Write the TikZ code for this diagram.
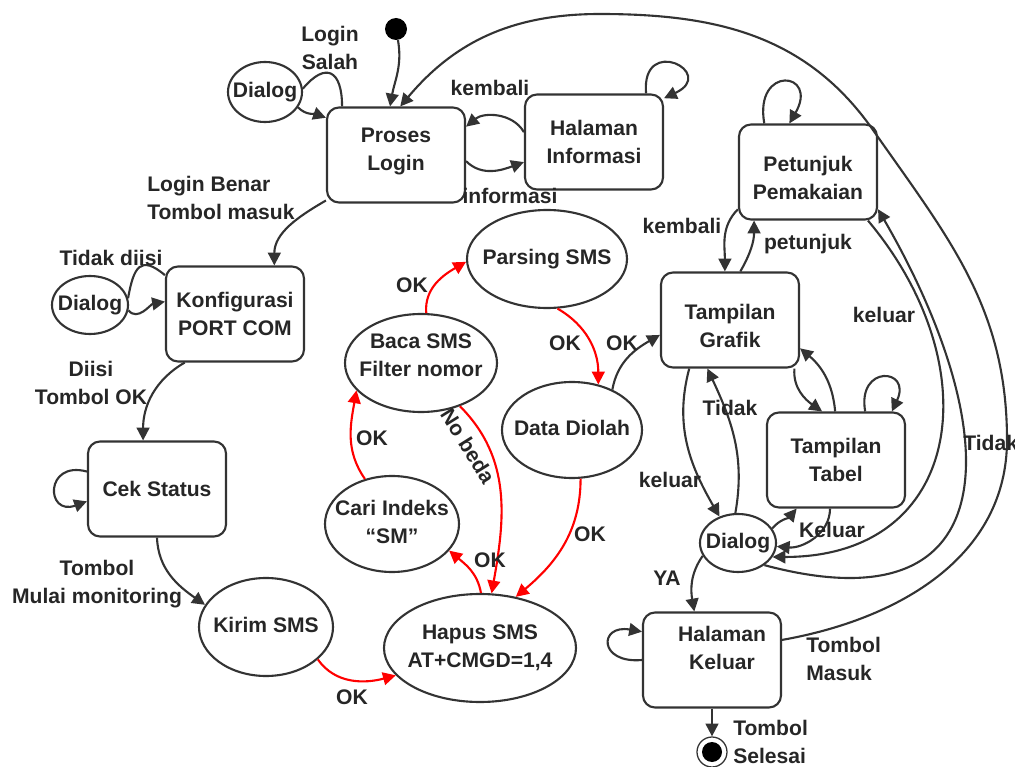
\documentclass[tikz,border=0pt]{standalone}
\usepackage{fontspec}
\setmainfont{Liberation Sans}
\usetikzlibrary{arrows.meta,shapes.geometric}
\newcommand{\ovtxt}[1]{\makebox[0pt]{\begin{tabular}{@{}c@{}}#1\end{tabular}}}
\newcommand{\shifttxt}[2]{\raisebox{#1}[\height][\depth]{\begin{tabular}{@{}c@{}}#2\end{tabular}}}
\tikzset{
  state/.style={draw=black!80, line width=1.5pt, rounded corners=3mm, minimum width=34.5mm, minimum height=23.75mm, align=center, inner sep=0pt},
  oval/.style={ellipse, draw=black!80, line width=1.5pt, inner sep=0pt},
  trans/.style={draw=black!80, line width=1.5pt, -{Triangle[length=3.2mm,width=3.2mm]}},
  plain/.style={draw=black!80, line width=1.5pt},
  redtrans/.style={draw=red, line width=1.5pt, -{Triangle[length=3.2mm,width=3.2mm]}},
  lbl/.style={inner sep=0pt, align=center},
}

\begin{document}
\begin{tikzpicture}[x=0.25mm, y=0.25mm, font=\bfseries\fontsize{15}{20}\selectfont, text=black!85]
		%%%%% START %%%%%
		\useasboundingbox (0,0) rectangle (1015,-767);
		
		% states
		\node[state] (login) at (396,-155) {\shifttxt{1mm}{Proses\\Login}};
		\node[state] (info) at (594,-142) {Halaman\\Informasi};
		\node[state] (petunjuk) at (808,-172) {\shifttxt{-2mm}{Petunjuk\\Pemakaian}};
		\node[state] (konfig) at (235,-314) {Konfigurasi\\PORT COM};
		\node[state] (grafik) at (730,-320) {\shifttxt{-2mm}{Tampilan\\Grafik}};
		\node[state] (cek) at (157,-489) {Cek Status};
		\node[state] (tabel) at (836,-460) {Tampilan\\Tabel};
		\node[state] (keluar) at (712,-660) {\shifttxt{2.5mm}{\hspace*{5mm}Halaman\\\hspace*{5mm}Keluar}};
		
		% ovals
		\node[oval, minimum width=18.5mm, minimum height=15mm] (dlg1) at (265,-92) {\ovtxt{Dialog}};
		\node[oval, minimum width=19mm, minimum height=14.5mm] (dlg2) at (90,-305) {\ovtxt{Dialog}};
		\node[oval, minimum width=40mm, minimum height=24.5mm] (parsing) at (547,-259) {\ovtxt{Parsing SMS}};
		\node[oval, minimum width=38mm, minimum height=24.5mm] (baca) at (421,-363) {\ovtxt{\shifttxt{1.5mm}{Baca SMS\\Filter nomor}}};
		\node[oval, minimum width=35mm, minimum height=24mm] (diolah) at (572,-430) {\ovtxt{Data Diolah}};
		\node[oval, minimum width=33.5mm, minimum height=24mm] (cari) at (392,-524) {\ovtxt{Cari Indeks\\“SM”}};
		\node[oval, minimum width=33.5mm, minimum height=24.5mm] (kirim) at (266,-627) {\ovtxt{Kirim SMS}};
		\node[oval, minimum width=48mm, minimum height=27mm] (hapus) at (480,-648) {\ovtxt{Hapus SMS\\AT+CMGD=1,4}};
		\node[oval, minimum width=19mm, minimum height=14.5mm] (dlg3) at (738,-543) {\ovtxt{Dialog}};
		
		% start and end
		\node[circle, fill=black, minimum size=5.5mm, inner sep=0pt] (start) at (396,-29) {};
		\node[circle, draw=black!80, line width=0.9pt, minimum size=7.5mm, inner sep=0pt] (stop) at (712,-752) {};
		\fill (stop) circle (10);
		
		% login part
		\draw[trans] (start) to[out=-80,in=80] (login.97);
		\draw[plain] (login.138) to[out=90,in=50,min distance=9mm] (dlg1.5);
		\draw[trans] (dlg1.-25) to[out=-45,in=160] (login.152);
		\draw[trans] (info.172) to[out=120,in=40] (login.22);
		\draw[trans] (login.-5) to[out=-45,in=-160] (info.-164);
		\draw[trans] (info.43) to[out=95,in=25,min distance=15mm] (info.32);
		\draw[trans] (login.213) to[out=210,in=90] (konfig.51);
		
		% konfigurasi and cek status
		\draw[plain] (konfig.151) to[out=140,in=80,min distance=8mm] (dlg2.10);
		\draw[trans] (dlg2.-8) to[out=-50,in=190] (konfig.170);
		\draw[trans] (konfig.224) to[out=210,in=90] (cek.106);
		\draw[trans] (cek.166) to[out=165,in=200,min distance=11mm] (cek.190);
		\draw[trans] (cek.-90) to[out=-88,in=145] (kirim.160);
		
		% sms handling
		\draw[redtrans] (kirim.-32) to[out=-55,in=195] (hapus.198);
		\draw[redtrans] (hapus.89) to[out=100,in=-40] (cari.-25);
		\draw[redtrans] (cari.121) to[out=125,in=-100] (baca.-157);
		\draw[redtrans] (baca.84) to[out=95,in=210] (parsing.182);
		\draw[redtrans] (parsing.-78) to[out=-30,in=90] (diolah.60);
		\draw[redtrans] (baca.-48) to[out=-45,in=80] (hapus.78);
		\draw[redtrans] (diolah.-80) to[out=-90,in=40] (hapus.55);
		
		% display part
		\draw[trans] (diolah.45) to[out=80,in=210] (grafik.-168);
		\draw[trans] (petunjuk.208) to[out=225,in=90] (grafik.96);
		\draw[trans] (grafik.78) to[out=60,in=-90] (petunjuk.222);
		\draw[trans] (petunjuk.132) to[out=100,in=60,min distance=15mm] (petunjuk.111);
		\draw[trans] (grafik.-37) to[out=-95,in=145] (tabel.106);
		\draw[trans] (tabel.91) to[out=95,in=-40] (grafik.-22);
		\draw[trans] (tabel.59) to[out=100,in=65,min distance=12mm] (tabel.41);
		\draw[trans] (grafik.-130) to[out=-105,in=120] (dlg3.125);
		\draw[trans] (dlg3.95) to[out=80,in=-65] (grafik.-115);
		\draw[trans] (dlg3.23) to[out=50,in=-130] (tabel.-129);
		\draw[trans] (tabel.-97) to[out=-90,in=-5] (dlg3.-5);
		\draw[trans] (petunjuk.-39) to[out=-50,in=0,looseness=1.4] (dlg3.-22);
		\draw[trans] (dlg3.-40) to[out=-15,in=-60,looseness=1.75] (petunjuk.-28);
		
		% exit part
		\draw[trans] (dlg3.200) to[out=-125,in=100] (keluar.110);
		\draw[trans] (keluar.180) to[out=185,in=170,min distance=11mm] (keluar.158);
		\draw[trans] (keluar.south) -- (stop);
		\coordinate (arcR) at (1007,-440);
		\coordinate (arcM) at (873,-130);
		\coordinate (arcT) at (600,-14);
		\draw[trans] (keluar.16) to[out=10,in=-90] (arcR) to[out=90,in=-55] (arcM)
			to[out=125,in=0] (arcT) to[out=180,in=50] (login.85);
		
		% labels
		\node[lbl] (lsalah) at (330,-48) {Login\\Salah};
		\node[lbl] (lkembali) at (490,-88) {kembali};
		\node[lbl] (linformasi) at (510,-196) {informasi};
		\node[lbl, align=left, anchor=west] (lbenar) at (147,-198) {Login Benar\\Tombol masuk};
		\node[lbl] (ltidakdiisi) at (111,-258) {Tidak diisi};
		\node[lbl] (ldiisi) at (91,-383) {Diisi\\Tombol OK};
		\node[lbl] (lmulai) at (97,-584) {Tombol\\Mulai monitoring};
		\node[lbl] (lokkirim) at (352,-697) {OK};
		\node[lbl] (lokhapus) at (490,-560) {OK};
		\node[lbl] (lokcari) at (372,-438) {OK};
		\node[lbl] (lokbaca) at (412,-285) {OK};
		\node[lbl] (lokparsing) at (565,-343) {OK};
		\node[lbl, rotate=-58] (lnobeda) at (468,-446) {No beda};
		\node[lbl] (lokdiolah) at (590,-534) {OK};
		\node[lbl] (lokgrafik) at (622,-343) {OK};
		\node[lbl] (lkembalip) at (682,-226) {kembali};
		\node[lbl] (lpetunjuk) at (808,-244) {petunjuk};
		\node[lbl] (lkeluarp) at (884,-315) {keluar};
		\node[lbl, anchor=west] (ltidakp) at (963,-443) {Tidak};
		\node[lbl] (ltidakg) at (730,-408) {Tidak};
		\node[lbl] (lkeluarg) at (670,-480) {keluar};
		\node[lbl] (lkeluart) at (832,-530) {Keluar};
		\node[lbl] (lya) at (667,-578) {YA};
		\node[lbl, align=left, anchor=west] (lmasuk) at (806,-659) {Tombol\\Masuk};
		\node[lbl, align=left, anchor=west] (lselesai) at (733,-742) {Tombol\\Selesai};
		
		%%%%% END %%%%%
	\end{tikzpicture}
\end{document}
